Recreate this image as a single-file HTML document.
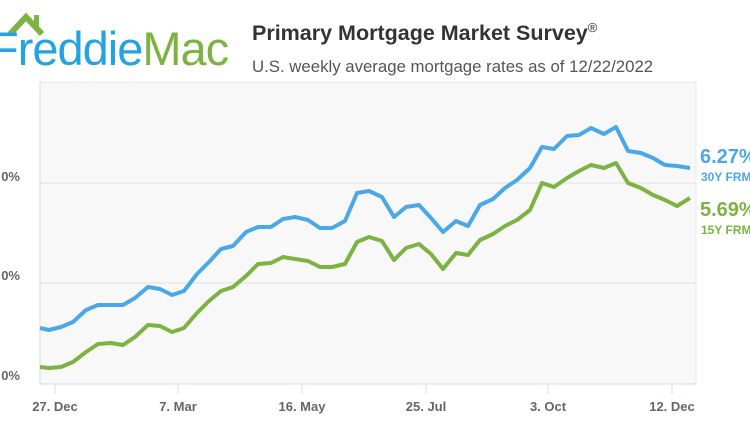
<!DOCTYPE html>
<html><head><style>
body{margin:0;width:750px;height:430px;background:#fff;overflow:hidden;font-family:"Liberation Sans",sans-serif;}
</style></head><body>
<svg width="750" height="430" xmlns="http://www.w3.org/2000/svg" style="position:absolute;left:0;top:0">
<polyline points="10,34 26,17 42,34" fill="none" stroke="#7cb342" stroke-width="6"/>
<rect x="34" y="15" width="5" height="11" fill="#7cb342"/>
<text x="-10" y="65" font-size="47" font-family="Liberation Sans,sans-serif" letter-spacing="-1"><tspan fill="#25a3e0">Freddie</tspan><tspan fill="#7cb342">Mac</tspan></text>
<text x="252" y="40" font-size="21.5" font-weight="bold" fill="#333">Primary Mortgage Market Survey<tspan font-size="13" dy="-8" font-weight="normal">®</tspan></text>
<text x="252" y="72" font-size="16.8" fill="#555">U.S. weekly average mortgage rates as of 12/22/2022</text>
<rect x="40" y="82" width="656" height="302" fill="#f8f8f8" stroke="#e6e9f0"/>
<line x1="40" y1="183" x2="696" y2="183" stroke="#e0e0e0"/>
<line x1="40" y1="283" x2="696" y2="283" stroke="#e0e0e0"/>
<line x1="40" y1="82" x2="40" y2="384" stroke="#d0dcf0"/>
<line x1="40" y1="384" x2="696" y2="384" stroke="#d0dcf0"/>
<g stroke="#d0dcf0"><line x1="55" y1="384" x2="55" y2="394"/><line x1="178" y1="384" x2="178" y2="394"/><line x1="302" y1="384" x2="302" y2="394"/><line x1="426" y1="384" x2="426" y2="394"/><line x1="548" y1="384" x2="548" y2="394"/><line x1="672" y1="384" x2="672" y2="394"/></g>
<g font-size="13" font-weight="bold" fill="#666" text-anchor="middle">
<text x="55" y="411">27. Dec</text><text x="178" y="411">7. Mar</text><text x="302" y="411">16. May</text><text x="426" y="411">25. Jul</text><text x="548" y="411">3. Oct</text><text x="672" y="411">12. Dec</text></g>
<g font-size="13" font-weight="bold" fill="#666" text-anchor="end">
<text x="20" y="181">0%</text><text x="20" y="280">0%</text><text x="20" y="380">0%</text></g>
<polyline fill="none" stroke="#4aa8e8" stroke-width="4" stroke-linejoin="round" points="40,328 49,330 61,327 73,322 86,310 98,305 111,305 123,305 135,298 148,287 160,289 172,295 184,291 197,274 209,262 221,249 233,246 246,232 258,227 271,227 283,219 295,217 308,220 320,228 332,228 345,221 357,193 369,191 382,197 394,217 406,207 419,205 431,218 443,232 456,221 468,226 480,205 493,199 505,188 517,180 530,168 542,147 554,149 567,136 579,135 591,128 604,134 616,127 628,151 641,153 653,158 665,165 677,166 690,168"/>
<polyline fill="none" stroke="#7cb342" stroke-width="4" stroke-linejoin="round" points="40,367 49,368 61,367 73,362 86,352 98,344 111,343 123,345 135,337 148,325 160,326 172,332 184,328 197,313 209,301 221,291 233,287 246,276 258,264 271,263 283,257 295,259 308,261 320,267 332,267 345,264 357,242 369,237 382,241 394,260 406,248 419,244 431,254 443,269 456,253 468,255 480,240 493,234 505,226 517,220 530,210 542,183 554,187 567,178 579,171 591,165 604,168 616,163 628,183 641,188 653,195 665,200 677,206 690,198"/>
<text x="700" y="163" font-size="20" font-weight="bold" fill="#4aa8e8">6.27%</text>
<text x="701" y="181" font-size="12" font-weight="bold" fill="#4aa8e8">30Y FRM</text>
<text x="700" y="216" font-size="20" font-weight="bold" fill="#7cb342">5.69%</text>
<text x="701" y="234" font-size="12" font-weight="bold" fill="#7cb342">15Y FRM</text>
</svg>
</body></html>
